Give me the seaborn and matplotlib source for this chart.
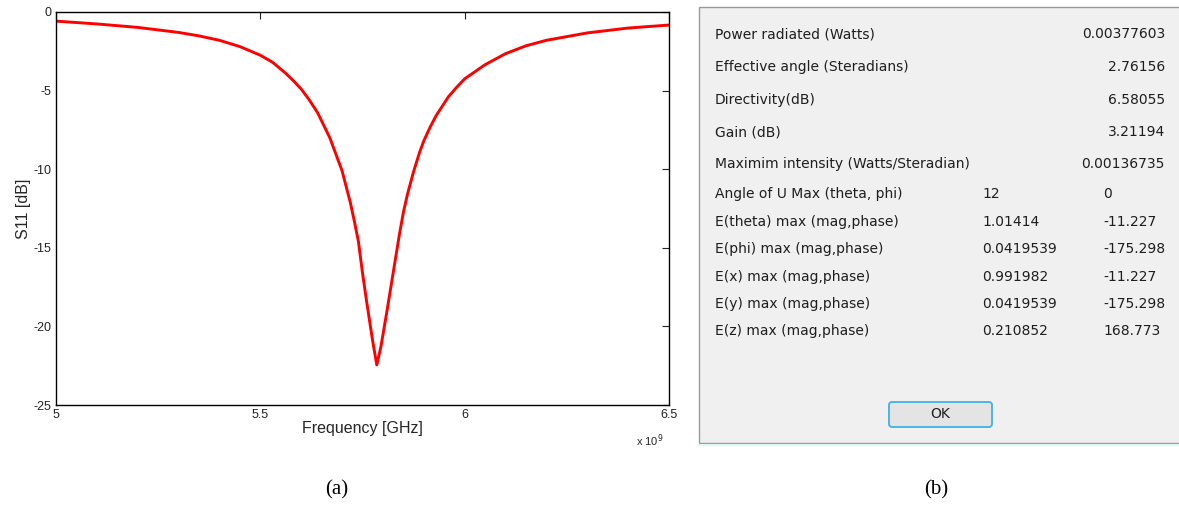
"""
S11 egrisi (a) ve anten parametre penceresi (b) tek figurde.
"""

import matplotlib.pyplot as plt
import numpy as np
import pandas as pd
import seaborn as sns
from matplotlib.patches import FancyBboxPatch, Rectangle


# S11 verisi (frekans GHz, dB)
frekans = [5.00, 5.10, 5.20, 5.30, 5.35, 5.40, 5.45, 5.50, 5.53, 5.56, 5.58, 5.60, 5.62, 5.64,
           5.67, 5.685, 5.70, 5.72, 5.73, 5.74, 5.75, 5.76, 5.775, 5.785, 5.795,
           5.81, 5.83, 5.84, 5.85, 5.86, 5.875, 5.89, 5.90, 5.915, 5.93, 5.945,
           5.96, 5.98, 6.00, 6.05, 6.10, 6.15, 6.20, 6.30, 6.40, 6.50]
s11_db = [-0.58, -0.76, -0.98, -1.3, -1.52, -1.8, -2.2, -2.75, -3.2, -3.85, -4.35, -4.9, -5.6, -6.4,
          -8.0, -9.05, -10.1, -12.1, -13.3, -14.6, -16.6, -18.4, -20.95, -22.45, -21.3,
          -19.0, -15.8, -14.2, -12.75, -11.6, -10.15, -8.9, -8.2, -7.35, -6.6, -6.0,
          -5.4, -4.8, -4.25, -3.35, -2.65, -2.15, -1.8, -1.33, -1.02, -0.83]

x_ticks = [5, 5.5, 6, 6.5]
x_tick_labels = ["5", "5.5", "6", "6.5"]
y_ticks = [0, -5, -10, -15, -20, -25]

# pencere satirlari
etiketler = [
    "Power radiated (Watts)",
    "Effective angle (Steradians)",
    "Directivity(dB)",
    "Gain (dB)",
    "Maximim intensity (Watts/Steradian)",
    "Angle of U Max (theta, phi)",
    "E(theta) max (mag,phase)",
    "E(phi) max (mag,phase)",
    "E(x) max (mag,phase)",
    "E(y) max (mag,phase)",
    "E(z) max (mag,phase)",
]
tek_degerler = ["0.00377603", "2.76156", "6.58055", "3.21194", "0.00136735"]
buyukluk = ["12", "1.01414", "0.0419539", "0.991982", "0.0419539", "0.210852"]
faz = ["0", "-11.227", "-175.298", "-11.227", "-175.298", "168.773"]
satir_y = [34, 67, 100, 132, 164, 194, 222, 249, 277, 304, 331]

W, H = 1179, 511

sns.set_style("white")
plt.rcParams["font.family"] = ["Liberation Sans", "DejaVu Sans"]
plt.rcParams["axes.unicode_minus"] = False

fig = plt.figure(figsize=(W / 100, H / 100), dpi=100)

# (a) S11 grafigi
ax = fig.add_axes([56 / W, 1 - 405 / H, (669 - 56) / W, (405 - 12) / H])
df = pd.DataFrame({"f": frekans, "s11": s11_db})
sns.lineplot(data=df, x="f", y="s11", ax=ax, color="#ff0000", linewidth=2.1)
ax.set_xlim(5, 6.5)
ax.set_ylim(-25, 0)
ax.set_xticks(x_ticks)
ax.set_xticklabels(x_tick_labels)
ax.set_yticks(y_ticks)
ax.tick_params(direction="in", length=5, width=0.8, labelsize=9,
               top=True, right=True, colors="#222222", pad=3)
for s in ax.spines.values():
    s.set_color("black")
    s.set_linewidth(1.0)
ax.set_xlabel("Frequency [GHz]", fontsize=11.5, labelpad=0)
ax.set_ylabel("S11 [dB]", fontsize=11.5, labelpad=2)
fig.text(650 / W, 1 - 441 / H, "x 10$^9$", fontsize=8, ha="center", va="center")

# (b) parametre penceresi
ov = fig.add_axes([0, 0, 1, 1])
ov.set_xlim(0, W)
ov.set_ylim(H, 0)
ov.axis("off")
ov.add_patch(Rectangle((699, 7), W - 699 + 5, 436, facecolor="#f0f0f0",
                       edgecolor="#9a9a9a", linewidth=1.0))
ov.plot([699, W], [445, 445], color="#dff8fb", linewidth=1.5)

yazi = dict(fontsize=10, color="#1e1e1e", va="center",
            family=["DejaVu Sans"])
for i, (et, y) in enumerate(zip(etiketler, satir_y)):
    ov.text(715, y, et, ha="left", **yazi)
    if i < len(tek_degerler):
        ov.text(1165, y, tek_degerler[i], ha="right", **yazi)
    else:
        j = i - len(tek_degerler)
        ov.text(982, y, buyukluk[j], ha="left", **yazi)
        ov.text(1103, y, faz[j], ha="left", **yazi)

ov.add_patch(FancyBboxPatch((889, 402), 103, 25, boxstyle="round,pad=0,rounding_size=3",
                            facecolor="#e4e4e4", edgecolor="#4ab4e6", linewidth=1.4))
ov.text(940, 414.5, "OK", ha="center", **yazi)

# alt yazilar
ov.text(337, 490, "(a)", ha="center", va="center", fontsize=15,
        family=["Liberation Serif"], color="black")
ov.text(936, 490, "(b)", ha="center", va="center", fontsize=15,
        family=["Liberation Serif"], color="black")

fig.savefig("out.png", dpi=100)
